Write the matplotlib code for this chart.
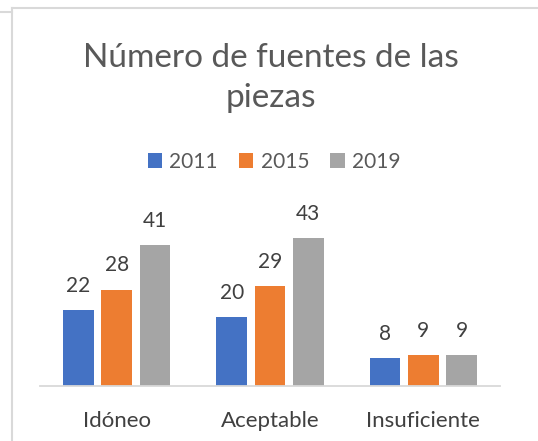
import matplotlib.pyplot as plt
import numpy as np
from matplotlib.lines import Line2D

categories = ["Idóneo", "Aceptable", "Insuficiente"]
years = ["2011", "2015", "2019"]
values = {
    "2011": [22, 20, 8],
    "2015": [28, 29, 9],
    "2019": [41, 43, 9],
}
colours = {"2011": "#4472C4", "2015": "#ED7D31", "2019": "#A5A5A5"}

W, H = 538, 441
plt.rcParams["font.family"] = ["Lato", "DejaVu Sans"]

fig = plt.figure(figsize=(W / 100, H / 100), dpi=100)
ax = fig.add_axes([40 / W, 55 / H, 460 / W, 172 / H])

x = np.arange(len(categories))
width = 0.2
step = 0.25
for i, year in enumerate(years):
    bars = ax.bar(x + (i - 1) * step, values[year], width, color=colours[year], label=year)
    for rect, v in zip(bars, values[year]):
        ax.annotate(str(v), (rect.get_x() + rect.get_width() / 2, rect.get_height()),
                    xytext=(0, 17.5), textcoords="offset points",
                    ha="center", va="center", fontsize=15, color="#404040")

ax.set_xlim(-0.5, len(categories) - 0.5)
ax.set_ylim(0, 50)
ax.set_xticks(x, categories)
ax.tick_params(axis="x", length=0, pad=18, labelsize=16, labelcolor="#404040")
ax.set_yticks([])
for side in ("top", "right", "left"):
    ax.spines[side].set_visible(False)
ax.spines["bottom"].set_color("#D9D9D9")
ax.spines["bottom"].set_linewidth(1.3)

fig.text(271 / W, 1 - 78 / H, "Número de fuentes de las\npiezas", ha="center", va="center",
         fontsize=24, color="#595959", linespacing=1.42)

fig.legend(loc="center", bbox_to_anchor=(274 / W, 1 - 162 / H), ncol=3, frameon=False,
           fontsize=15, handlelength=0.7, handleheight=0.7, handletextpad=0.35,
           columnspacing=1.0, labelcolor="#595959")

# chart-area border as in the screenshot
grey = "#D9D9D9"
fig.add_artist(Line2D([12 / W, 1], [1 - 8 / H, 1 - 8 / H], color=grey, lw=1.5))
fig.add_artist(Line2D([0, 12 / W], [1 - 12 / H, 1 - 12 / H], color=grey, lw=1.5))
fig.add_artist(Line2D([12 / W, 12 / W], [0, 1 - 8 / H], color=grey, lw=1.5))

fig.savefig("out.png", dpi=100)
